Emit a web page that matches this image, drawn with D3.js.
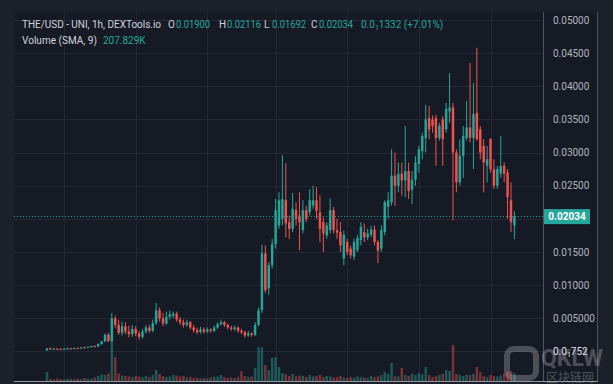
<!DOCTYPE html>
<html>
<head>
<meta charset="utf-8">
<script src="https://cdn.jsdelivr.net/npm/d3@7"></script>
<style>
  body { margin: 0; background: #1c202b; }
  svg { display: block; font-family: Roboto, "Noto Sans", sans-serif; }
</style>
</head>
<body>
<script>
// THE/USD hourly candles
const opens = [
  .00015,.00045,.00035,.00040,.00035,.00030,.00040,.00045,.00040,.00050,
  .00045,.00060,.00055,.00070,.00080,.00075,.0011,.0015,.0025,.0016,
  .0050,.0040,.0028,.0038,.0030,.0026,.0034,.0027,.0022,.0030,
  .0036,.0031,.0043,.0062,.0050,.0042,.0052,.0054,.0057,.0048,
  .0044,.0040,.0044,.0036,.0032,.0029,.0033,.0030,.0033,.0031,
  .0036,.0041,.0044,.0040,.0036,.0034,.0036,.0031,.0029,.0024,
  .0027,.0025,.0040,.0062,.0148,.0095,.0130,.0162,.0190,.0200,
  .0228,.0195,.0185,.0213,.0205,.0183,.0213,.0210,.0220,.0228,
  .0210,.0195,.0175,.0183,.0213,.0183,.0180,.0140,.0165,.0155,
  .0143,.0153,.0168,.0180,.0172,.0176,.0184,.0165,.0155,.0180,
  .0218,.0225,.0265,.0250,.0268,.0258,.0272,.0244,.0259,.0283,
  .0302,.0322,.0352,.0350,.0352,.0322,.0350,.0335,.0362,.0368,
  .0300,.0255,.0295,.0322,.0338,.0322,.0360,.0335,.0310,.0280,
  .0320,.0275,.0250,.0268,.0280,.0270,.0228,.0190
];
const highs = [
  .00050,.00060,.00050,.00050,.00045,.00045,.00055,.00055,.00055,.00060,
  .00065,.00070,.00075,.00085,.00090,.0012,.0016,.0027,.0028,.0058,
  .0054,.0047,.0045,.0044,.0039,.0040,.0038,.0031,.0034,.0040,
  .0040,.0048,.0073,.0066,.0058,.0060,.0062,.0060,.0060,.0052,
  .0048,.0048,.0046,.0040,.0036,.0037,.0036,.0036,.0035,.0039,
  .0044,.0048,.0046,.0042,.0039,.0039,.0038,.0034,.0031,.0031,
  .0029,.0044,.0066,.0161,.0160,.0135,.0170,.0230,.0240,.0296,
  .0284,.0205,.0239,.0225,.0240,.0228,.0220,.0245,.0250,.0248,
  .0235,.0202,.0195,.0231,.0218,.0200,.0195,.0182,.0170,.0160,
  .0170,.0176,.0195,.0193,.0185,.0190,.0190,.0168,.0190,.0228,
  .0240,.0305,.0300,.0285,.0285,.0340,.0285,.0272,.0295,.0310,
  .0330,.0372,.0370,.0356,.0357,.0345,.0355,.0375,.0420,.0375,
  .0305,.0320,.0340,.0378,.0435,.0405,.0458,.0340,.0320,.0310,
  .0322,.0290,.0280,.0325,.0285,.0275,.0255,.02116
];
const lows = [
  .00010,.00030,.00025,.00030,.00025,.00020,.00030,.00035,.00030,.00040,
  .00040,.00050,.00050,.00060,.00065,.0007,.0010,.0014,.0014,.0014,
  .0035,.0025,.0024,.0026,.0021,.0022,.0023,.0018,.0019,.0027,
  .0028,.0029,.0040,.0045,.0038,.0040,.0048,.0050,.0045,.0040,
  .0036,.0037,.0033,.0028,.0026,.0027,.0027,.0028,.0028,.0029,
  .0034,.0039,.0037,.0033,.0031,.0031,.0028,.0026,.0021,.0022,
  .0022,.0023,.0038,.0058,.0088,.0085,.0125,.0155,.0185,.0190,
  .0172,.0170,.0180,.0190,.0153,.0178,.0195,.0205,.0215,.0200,
  .0165,.0150,.0170,.0178,.0178,.0170,.0150,.0130,.0145,.0140,
  .0138,.0150,.0160,.0165,.0168,.0172,.0160,.0133,.0150,.0175,
  .0200,.0220,.0220,.0240,.0235,.0233,.0230,.0222,.0250,.0270,
  .0290,.0300,.0320,.0330,.0280,.0318,.0280,.0330,.0345,.0198,
  .0240,.0250,.0262,.0318,.0315,.0275,.0318,.0290,.0240,.0255,
  .0270,.0245,.0245,.0262,.0255,.0200,.0180,.01692
];
const closes = [
  .00045,.00035,.00040,.00035,.00030,.00040,.00045,.00040,.00050,.00045,
  .00060,.00055,.00070,.00080,.00075,.0011,.0015,.0025,.0016,.0050,
  .0040,.0028,.0038,.0030,.0026,.0034,.0027,.0022,.0030,.0036,
  .0031,.0043,.0062,.0050,.0042,.0052,.0056,.0057,.0048,.0044,
  .0040,.0044,.0036,.0032,.0029,.0033,.0030,.0033,.0031,.0036,
  .0041,.0044,.0040,.0036,.0034,.0036,.0031,.0029,.0024,.0027,
  .0025,.0040,.0062,.0148,.0092,.0130,.0162,.0213,.0228,.0230,
  .0193,.0185,.0215,.0200,.0195,.0213,.0200,.0228,.0228,.0212,
  .0185,.0178,.0190,.0213,.0183,.0179,.0160,.0176,.0150,.0145,
  .0165,.0171,.0188,.0172,.0178,.0184,.0165,.0152,.0183,.0225,
  .0228,.0265,.0250,.0268,.0258,.0272,.0242,.0259,.0285,.0305,
  .0325,.0350,.0335,.0340,.0322,.0340,.0320,.0366,.0368,.0300,
  .0255,.0295,.0325,.0338,.0322,.0358,.0320,.0300,.0285,.0290,
  .0275,.0250,.0275,.0280,.0268,.0233,.0195,.02034
];
// volume in thousands
const volumes = [
  360,80,60,100,70,60,80,90,70,100,
  80,120,100,90,140,200,260,240,300,1900,
  950,300,220,200,180,160,200,180,150,200,
  160,240,440,280,200,160,180,240,220,180,
  200,140,160,120,140,100,120,100,140,160,
  180,240,160,120,140,120,160,400,200,160,
  180,520,1350,1350,640,440,920,960,560,320,
  260,200,280,180,220,200,160,240,180,200,
  240,160,200,180,140,160,200,140,120,160,
  140,180,160,140,120,200,160,180,240,360,
  280,720,200,180,520,240,200,280,240,320,
  260,560,240,160,200,240,280,440,400,1440,
  280,240,200,260,240,280,560,360,200,160,
  240,200,180,220,300,360,400,320
];

const priceTicks = [0.05, 0.045, 0.04, 0.035, 0.03, 0.025, 0.02, 0.015, 0.01, 0.005, 0];
// the 0.02 label sits under the last-price tag, so it is left blank
const priceLabels = ["0.05000", "0.04500", "0.04000", "0.03500", "0.03000", "0.02500",
                     "", "0.01500", "0.01000", "0.005000", ""];
const timeGrid = [5, 26, 47, 67, 88, 109, 130];   // candle index of each vertical grid line
const lastPrice = 0.02034;

const W = 613, H = 384;
const up = "#26a69a", down = "#ef5350";

const svg = d3.select("body").append("svg").attr("width", W).attr("height", H);

svg.append("rect").attr("width", W).attr("height", H).attr("fill", "#1c202b");
svg.append("rect").attr("x", 14).attr("y", 12).attr("width", 583).attr("height", 370).attr("fill", "#161a25");

const n = closes.length;
const x = d3.scalePoint().domain(d3.range(n)).range([47, 514.4]);
const y = d3.scaleLinear().domain([0, 0.05]).range([351.4, 20]);
const v = d3.scaleLinear().domain([0, 2000]).range([381, 331]);
const bw = x.step() * 0.72;

// grid
svg.append("g").selectAll("line").data(priceTicks).join("line")
  .attr("x1", 14).attr("x2", 543)
  .attr("y1", d => Math.round(y(d)) + 0.5).attr("y2", d => Math.round(y(d)) + 0.5)
  .attr("stroke", "#232733");
svg.append("g").selectAll("line").data(timeGrid).join("line")
  .attr("x1", d => Math.round(x(d)) + 0.5).attr("x2", d => Math.round(x(d)) + 0.5)
  .attr("y1", 12).attr("y2", 381)
  .attr("stroke", "#232733");

// volume
svg.append("g").selectAll("rect").data(volumes).join("rect")
  .attr("x", (d, i) => x(i) - bw / 2)
  .attr("width", bw)
  .attr("y", d => v(d))
  .attr("height", d => v(0) - v(d))
  .attr("fill", (d, i) => closes[i] >= opens[i] ? up : down)
  .attr("opacity", 0.45);

// candles
const candles = svg.append("g").selectAll("g").data(d3.range(n)).join("g");
candles.append("line")
  .attr("x1", i => x(i)).attr("x2", i => x(i))
  .attr("y1", i => y(highs[i])).attr("y2", i => y(lows[i]))
  .attr("stroke", i => closes[i] >= opens[i] ? up : down)
  .attr("stroke-width", 1);
candles.append("rect")
  .attr("x", i => x(i) - bw / 2)
  .attr("width", bw)
  .attr("y", i => y(Math.max(opens[i], closes[i])))
  .attr("height", i => Math.max(1, Math.abs(y(opens[i]) - y(closes[i]))))
  .attr("fill", i => closes[i] >= opens[i] ? up : down);

// last price line
svg.append("line")
  .attr("x1", 14).attr("x2", 543)
  .attr("y1", y(lastPrice)).attr("y2", y(lastPrice))
  .attr("stroke", up).attr("stroke-dasharray", "1,2");

// frame
svg.append("line").attr("x1", 543.5).attr("x2", 543.5).attr("y1", 12).attr("y2", 381).attr("stroke", "#50535e");
svg.append("line").attr("x1", 597.5).attr("x2", 597.5).attr("y1", 12).attr("y2", 382).attr("stroke", "#50535e");
svg.append("line").attr("x1", 14).attr("x2", 598).attr("y1", 381.5).attr("y2", 381.5).attr("stroke", "#9598a1");

// watermark (under the axis text)
const wm = svg.append("g").attr("opacity", 0.28);
wm.append("rect").attr("x", 507).attr("y", 349).attr("width", 29).attr("height", 29).attr("rx", 7)
  .attr("fill", "none").attr("stroke", "#d8d8d8").attr("stroke-width", 6);
wm.append("text").attr("x", 541).attr("y", 366).attr("fill", "#d8d8d8")
  .style("font-size", "23px").style("font-weight", "bold").text("QKLW");
wm.append("text").attr("x", 546).attr("y", 382).attr("fill", "#d8d8d8")
  .style("font-size", "12px").style("font-family", "'Noto Sans CJK SC'").text("区块链网");

// price axis
const axis = svg.append("g").attr("transform", "translate(543,0)")
  .call(d3.axisRight(y).tickValues(priceTicks).tickFormat((d, i) => priceLabels[i]).tickSize(0).tickPadding(10));
axis.select(".domain").remove();
axis.selectAll("text").attr("fill", "#b2b5be").style("font-size", "10px").style("font-family", "Roboto, sans-serif");

// bottom label with subscript zero count
const low = svg.append("text").attr("x", 553).attr("y", y(0) + 3.5)
  .attr("fill", "#e0e3eb").style("font-size", "10px");
low.append("tspan").text("0.0");
low.append("tspan").attr("dy", 2).style("font-size", "7px").text("1");
low.append("tspan").attr("dy", -2).text("752");

svg.append("rect")
  .attr("x", 544).attr("y", y(lastPrice) - 7.5).attr("width", 46).attr("height", 15)
  .attr("fill", up);
svg.append("text")
  .attr("x", 567).attr("y", y(lastPrice) + 3.5)
  .attr("text-anchor", "middle").attr("fill", "#fff")
  .style("font-size", "10px").style("font-weight", "bold")
  .text(d3.format(".5f")(lastPrice));

// legend
const legend = svg.append("g").style("font-size", "10px");
legend.append("text").attr("x", 22).attr("y", 28).attr("fill", "#d1d4dc")
  .attr("textLength", 139).attr("lengthAdjust", "spacing")
  .text("THE/USD - UNI, 1h, DEXTools.io");
const ohlc = [["O", opens[n - 1], 168], ["H", highs[n - 1], 219], ["L", lows[n - 1], 264], ["C", closes[n - 1], 311]];
ohlc.forEach(([k, val, px]) => {
  legend.append("text").attr("x", px).attr("y", 28).attr("fill", "#d1d4dc").text(k);
  legend.append("text").attr("x", px + 8).attr("y", 28).attr("fill", up)
    .attr("textLength", 34).attr("lengthAdjust", "spacingAndGlyphs")
    .text(d3.format(".5f")(val));
});
const chg = legend.append("text").attr("x", 361).attr("y", 28).attr("fill", up);
chg.append("tspan").text("0.0");
chg.append("tspan").attr("dy", 2).style("font-size", "7px").text("1");
chg.append("tspan").attr("dy", -2).text("1332 (+7.01%)");

legend.append("text").attr("x", 22).attr("y", 44).attr("fill", "#d1d4dc")
  .attr("textLength", 75).attr("lengthAdjust", "spacing")
  .text("Volume (SMA, 9)");
legend.append("text").attr("x", 103).attr("y", 44).attr("fill", "#22ab94").text("207.829K");
</script>
</body>
</html>
